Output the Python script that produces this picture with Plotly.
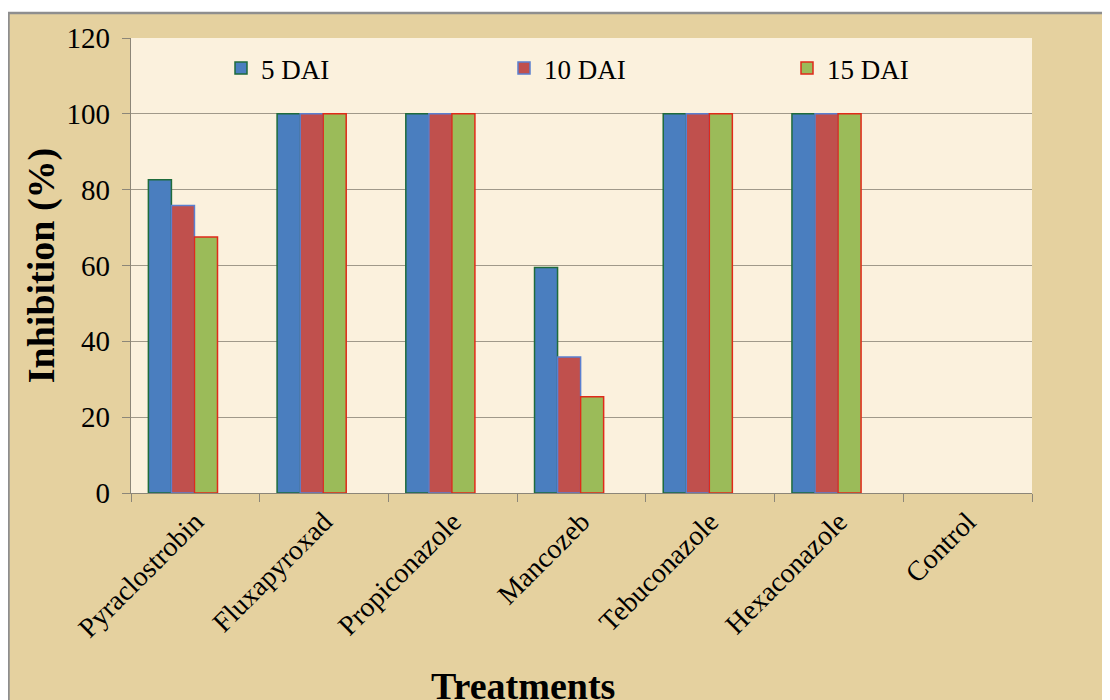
import plotly.graph_objects as go

treatments = ["Pyraclostrobin", "Fluxapyroxad", "Propiconazole", "Mancozeb",
              "Tebuconazole", "Hexaconazole", "Control"]
series_names = ["5 DAI", "10 DAI", "15 DAI"]
dai5 = [82.6, 100, 100, 59.5, 100, 100, 0]
dai10 = [75.8, 100, 100, 35.9, 100, 100, 0]
dai15 = [67.5, 100, 100, 25.4, 100, 100, 0]

fills = ["#4A7EBF", "#C0504D", "#9BBB59"]
outlines = ["#1E6B3C", "#5A7FD0", "#E02A1A"]
offsets = [-0.365, -0.186, -0.007]
bar_w = 0.179

FONT = "Liberation Serif, Times New Roman, serif"
L, T, PW, PH = 123, 30, 901, 455
R = 1110 - L - PW
B = 700 - T - PH

def px_x(x):
    return (x - L) / PW

def px_y(y):
    return 1 - (y - T) / PH

fig = go.Figure()
for name, vals, fc, lc, off in zip(series_names, [dai5, dai10, dai15], fills, outlines, offsets):
    fig.add_trace(go.Bar(
        x=treatments, y=[v if v != 0 else None for v in vals], name=name,
        marker=dict(color=fc, line=dict(color=lc, width=1.5)),
        width=bar_w, offset=off,
    ))

fig.update_layout(
    width=1110, height=700,
    margin=dict(l=L, r=R, t=T, b=B),
    paper_bgcolor="#E5D19F",
    plot_bgcolor="#FBF1DD",
    font=dict(family=FONT, size=27, color="black"),
    showlegend=True,
    legend=dict(
        orientation="h", x=px_x(213), y=px_y(36), xanchor="left", yanchor="top",
        bgcolor="rgba(0,0,0,0)",
        font=dict(family=FONT, size=27, color="black"),
        entrywidth=238, entrywidthmode="pixels",
        itemwidth=30,
    ),
    shapes=[
        dict(type="rect", xref="paper", yref="paper",
             x0=px_x(-20), x1=px_x(1200), y0=px_y(5), y1=px_y(-20),
             fillcolor="white", line=dict(width=0), layer="above"),
        dict(type="line", xref="paper", yref="paper",
             x0=px_x(0), x1=px_x(1200), y0=px_y(5), y1=px_y(5),
             line=dict(color="#8E8E8E", width=2.5), layer="above"),
        dict(type="line", xref="paper", yref="paper",
             x0=px_x(0.5), x1=px_x(0.5), y0=px_y(5), y1=px_y(720),
             line=dict(color="#8E8E8E", width=2.5), layer="above"),
    ],
    annotations=[dict(
        text="<b>Treatments</b>", xref="paper", yref="paper",
        x=px_x(515), y=px_y(678),
        xanchor="center", yanchor="middle", showarrow=False,
        font=dict(family=FONT, size=38, color="black"),
    )],
)

fig.update_xaxes(
    type="category",
    tickangle=-45,
    ticks="outside", ticklen=8, tickcolor="#8C8678", tickwidth=1.3,
    tickson="boundaries",
    showline=True, linecolor="#8C8678", linewidth=1.3,
    showgrid=False,
    tickfont=dict(family=FONT, size=28, color="black"),
)
fig.update_yaxes(
    range=[0, 120], dtick=20,
    ticks="outside", ticklen=8, tickcolor="#8C8678", tickwidth=1.3,
    ticklabelstandoff=6,
    showline=True, linecolor="#8C8678", linewidth=1.3,
    showgrid=True, gridcolor="#A0998A", gridwidth=1.3,
    zeroline=False,
    tickfont=dict(family=FONT, size=29, color="black"),
    title=dict(text="<b>Inhibition (%)</b>", font=dict(family=FONT, size=38, color="black"), standoff=0),
)

fig.write_html("out.html")
